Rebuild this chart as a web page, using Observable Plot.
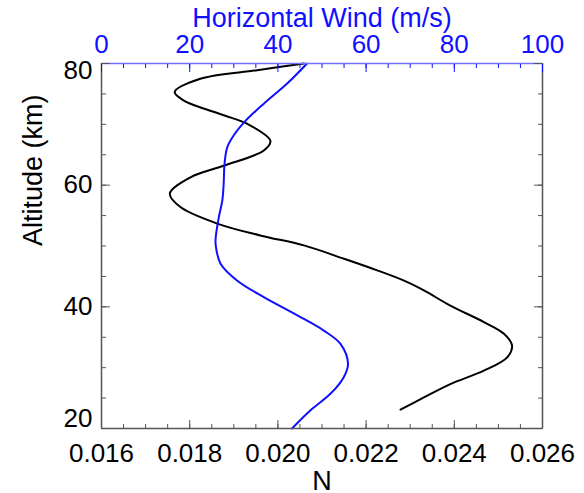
<!DOCTYPE html>
<html>
<head>
<meta charset="utf-8">
<script src="https://cdn.jsdelivr.net/npm/d3@7"></script>
<script src="https://cdn.jsdelivr.net/npm/@observablehq/plot@0.6"></script>
<style>
  html, body { margin: 0; padding: 0; background: #fff; }
  svg { font-family: "Liberation Sans", Arial, sans-serif; }
</style>
</head>
<body>
<div id="chart"></div>
<script>
// Buoyancy frequency N profile (bottom axis)
const nAltitude = [80, 78.9, 77.5, 75.3, 73.9, 71.5, 70.1, 67.3, 65.7, 63.2, 61.3, 58.6, 56.4, 53.6, 51.7, 50.1, 47.9, 46.0, 44.3, 42.7, 40.2, 37.5, 35.6, 33.6, 31.7, 29.5, 27.3, 25.1, 23.1];
const nValue    = [0.02059, 0.01953, 0.01824, 0.01766, 0.01787, 0.01877, 0.0193, 0.01983, 0.01968, 0.01877, 0.01802, 0.01755, 0.01779, 0.01866, 0.01962, 0.02059, 0.0215, 0.02225, 0.02286, 0.02331, 0.02391, 0.02467, 0.02512, 0.02531, 0.0252, 0.02467, 0.02391, 0.02331, 0.02278];

// Horizontal wind profile (top axis, m/s)
const windAltitude = [80, 76.7, 73.4, 70.6, 68.2, 66.2, 63.5, 60.2, 57.5, 54.7, 51.4, 50.1, 47.1, 44.3, 41.6, 38.6, 36.1, 33.9, 30.6, 28.4, 25.7, 23.0, 20.0];
const windValue    = [46.6, 42.1, 36.8, 32.7, 30.0, 28.5, 27.9, 27.7, 27.4, 26.6, 25.9, 25.9, 27.0, 30.8, 36.8, 44.4, 50.4, 54.2, 55.9, 54.9, 51.9, 47.4, 43.2];

// Tick values
const nTicks = [0.016, 0.018, 0.020, 0.022, 0.024, 0.026];
const nMinorTicks = d3.range(0, 21).map(i => 0.016 + i * 0.0005);
const windTicks = [0, 20, 40, 60, 80, 100];
const windMinorTicks = d3.range(0, 21).map(i => i * 5);
const altTicks = [20, 40, 60, 80];
const altInnerLabels = [40, 60];
const altTopLabel = [80];
const altBottomLabel = [20];
const altMinorTicks = d3.range(20, 81, 5);

const nDomain = [0.016, 0.026];
const windDomain = [0, 100];
const altDomain = [20, 80];

// map wind (m/s) onto the shared horizontal scale
const windToN = d3.scaleLinear().domain(windDomain).range(nDomain);

const nData = nAltitude.map((a, i) => ({alt: a, n: nValue[i]}));
const windData = windAltitude.map((a, i) => ({alt: a, n: windToN(windValue[i])}));

const blue = "#1010ff";
const frameGray = "#555";
const fs = 26;
const ts = 27;

const yLabelOpts = {anchor: "left", tickSize: 0, tickPadding: 9, tickFormat: d => String(d), fontSize: fs, fill: "#000", label: null};

const chart = Plot.plot({
  width: 584,
  height: 493,
  marginLeft: 101,
  marginRight: 42,
  marginTop: 63,
  marginBottom: 65,
  x: {domain: nDomain, axis: null},
  y: {domain: altDomain, axis: null},
  style: {fontFamily: "Liberation Sans, Arial, sans-serif", background: "#fff"},
  marks: [
    // curves
    Plot.line(nData, {x: "n", y: "alt", curve: "catmull-rom", stroke: "#000", strokeWidth: 2}),
    Plot.line(windData, {x: "n", y: "alt", curve: "catmull-rom", stroke: blue, strokeWidth: 2}),

    // frame lines
    Plot.ruleX([nDomain[0]], {stroke: frameGray, strokeWidth: 1.5}),
    Plot.ruleX([nDomain[1]], {stroke: frameGray, strokeWidth: 1.5}),
    Plot.ruleY([altDomain[0]], {stroke: frameGray, strokeWidth: 1.5}),
    Plot.ruleY([altDomain[1]], {stroke: "#7070ff", strokeWidth: 1.5}),

    // bottom ticks (inward)
    Plot.axisX(nTicks, {anchor: "bottom", tickSize: 8, dy: -8, tickFormat: () => "", stroke: frameGray, label: null}),
    Plot.axisX(nMinorTicks, {anchor: "bottom", tickSize: 4, dy: -4, tickFormat: () => "", stroke: frameGray, label: null}),
    Plot.axisX(nTicks, {anchor: "bottom", tickSize: 0, tickPadding: 15, tickFormat: d3.format(".3f"), fontSize: fs, fill: "#000", label: null}),

    // top ticks (inward, wind)
    Plot.axisX(windTicks.map(windToN), {anchor: "top", tickSize: 8, dy: 8, tickFormat: () => "", stroke: blue, label: null}),
    Plot.axisX(windMinorTicks.map(windToN), {anchor: "top", tickSize: 4, dy: 4, tickFormat: () => "", stroke: blue, label: null}),
    Plot.axisX(windTicks.map(windToN), {anchor: "top", tickSize: 0, tickPadding: 11, tickFormat: d => String(Math.round(windToN.invert(d))), fontSize: fs, fill: blue, label: null}),

    // left ticks (inward)
    Plot.axisY(altTicks, {anchor: "left", tickSize: 9, dx: 9, tickFormat: () => "", stroke: frameGray, label: null}),
    Plot.axisY(altMinorTicks, {anchor: "left", tickSize: 5, dx: 5, tickFormat: () => "", stroke: frameGray, label: null}),
    Plot.axisY(altInnerLabels, yLabelOpts),
    Plot.axisY(altTopLabel, {...yLabelOpts, dy: 7}),
    Plot.axisY(altBottomLabel, {...yLabelOpts, dy: -10}),

    // right ticks (inward)
    Plot.axisY(altTicks, {anchor: "right", tickSize: 9, dx: -9, tickFormat: () => "", stroke: frameGray, label: null}),
    Plot.axisY(altMinorTicks, {anchor: "right", tickSize: 5, dx: -5, tickFormat: () => "", stroke: frameGray, label: null}),

    // axis titles
    Plot.text(["N"], {text: d => d, frameAnchor: "bottom", dy: 53, fontSize: ts, fill: "#000", lineAnchor: "middle"}),
    Plot.text(["Horizontal Wind (m/s)"], {text: d => d, frameAnchor: "top", dy: -45.5, fontSize: ts, fill: blue, lineAnchor: "middle"}),
    Plot.text(["Altitude (km)"], {text: d => d, frameAnchor: "left", dx: -68, rotate: -90, fontSize: ts, fill: "#000", lineAnchor: "middle"})
  ]
});

document.getElementById("chart").appendChild(chart);
</script>
</body>
</html>
